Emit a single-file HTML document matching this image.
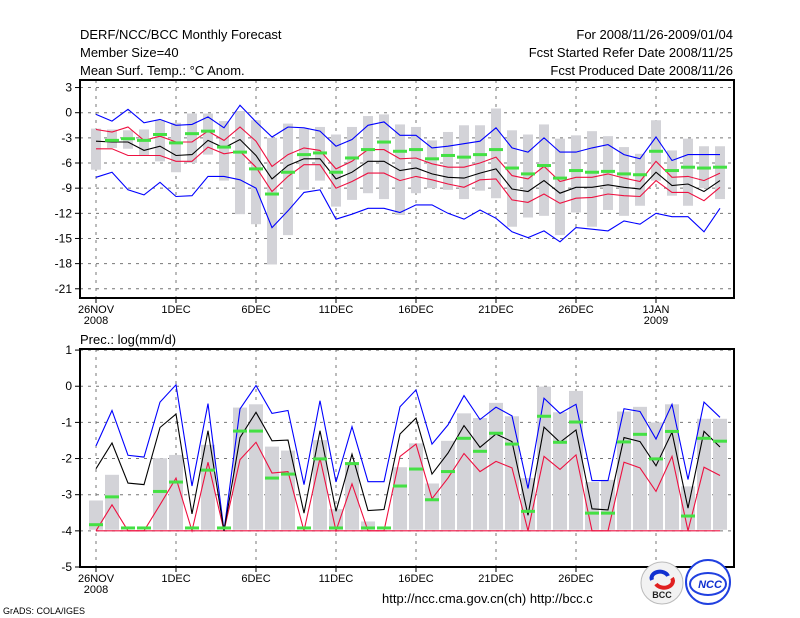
<!DOCTYPE html>
<html><head><meta charset="utf-8"><style>
body{margin:0;background:#fff;}
svg{display:block;font-family:"Liberation Sans",sans-serif;}
</style></head><body>
<svg id="chart" width="800" height="618" viewBox="0 0 800 618" xmlns="http://www.w3.org/2000/svg">
<rect width="800" height="618" fill="#fff"/>
<g font-size="13" fill="#000">
<text x="80" y="39">DERF/NCC/BCC Monthly Forecast</text>
<text x="80" y="57">Member Size=40</text>
<text x="80" y="75">Mean Surf. Temp.: °C Anom.</text>
<text x="733" y="39" text-anchor="end">For 2008/11/26-2009/01/04</text>
<text x="733" y="57" text-anchor="end">Fcst Started Refer Date 2008/11/25</text>
<text x="733" y="75" text-anchor="end">Fcst Produced Date 2008/11/26</text>
<text x="80" y="344">Prec.: log(mm/d)</text>
<text x="382" y="603">http://ncc.cma.gov.cn(ch)   http://bcc.c</text>
<text x="3" y="614" font-size="9">GrADS: COLA/IGES</text>
</g>
<g id="top"></g>
<g id="bot"></g>
<g>
<circle cx="662" cy="583" r="21" fill="#f2f2f2" stroke="#bbb"/>
<path d="M652 580 a8 6 0 0 1 16 -4" stroke="#1030d0" stroke-width="4" fill="none"/>
<path d="M672 578 a8 6 0 0 1 -16 6" stroke="#e02020" stroke-width="4" fill="none"/>
<text x="662" y="598" font-size="9" font-weight="bold" text-anchor="middle" fill="#222">BCC</text>
</g>
<g>
<circle cx="708" cy="582" r="22" fill="#fff" stroke="#2040e0" stroke-width="2"/>
<ellipse cx="708" cy="584" rx="18" ry="11" fill="none" stroke="#2040e0" stroke-width="2"/>
<text x="710" y="588" font-size="11" font-weight="bold" font-style="italic" text-anchor="middle" fill="#1030d0">NCC</text>
</g>
</svg>
<script>
// ---- temperature panel data ----
const days = ["26NOV","1DEC","6DEC","11DEC","16DEC","21DEC","26DEC","1JAN"];
const tempTicks = [3,0,-3,-6,-9,-12,-15,-18,-21];
const tBlueHi = [-0.2,-1.0,0.4,-1.2,-0.8,-1.5,-1.4,-0.5,-1.8,0.9,-1.1,-2.9,-1.7,-1.8,-2.2,-4.0,-3.2,-1.5,-1.1,-2.7,-2.7,-4.2,-4.0,-3.7,-3.4,-1.8,-4.2,-4.7,-3.0,-4.7,-4.7,-4.2,-3.8,-5.0,-5.5,-2.9,-5.7,-5.0,-5.0,-5.0];
const tBlueLo = [-7.7,-7.1,-9.2,-9.8,-8.3,-10.0,-9.9,-7.6,-7.6,-8.0,-9.0,-13.7,-11.7,-9.5,-9.2,-12.7,-12.1,-11.4,-11.4,-11.9,-11.0,-11.0,-12.0,-12.7,-11.6,-12.6,-14.2,-14.9,-14.1,-15.4,-13.7,-13.9,-14.1,-12.9,-13.3,-12.0,-12.4,-12.4,-14.2,-11.4];
const tRedHi = [-2.0,-2.3,-1.7,-3.3,-2.8,-3.5,-3.5,-2.2,-3.3,-1.7,-3.4,-6.4,-5.0,-4.2,-4.5,-6.7,-5.8,-4.4,-4.4,-5.5,-5.4,-6.1,-6.5,-6.5,-6.0,-5.3,-7.5,-7.9,-6.4,-8.2,-7.7,-7.7,-7.3,-7.8,-8.2,-5.8,-7.7,-7.6,-8.1,-7.2];
const tRedLo = [-4.3,-4.3,-5.1,-5.1,-5.1,-5.8,-5.8,-4.1,-4.9,-4.6,-6.5,-9.4,-7.6,-6.2,-6.2,-9.0,-8.2,-7.2,-7.2,-8.1,-7.6,-8.0,-8.5,-8.9,-8.0,-7.9,-10.4,-10.7,-9.7,-10.8,-10.2,-10.1,-9.7,-9.9,-10.0,-8.1,-9.5,-9.5,-10.5,-8.9];
const tMean = [-3.4,-3.5,-3.5,-4.5,-4.0,-5.1,-5.0,-3.3,-4.2,-3.2,-5.1,-7.9,-6.3,-5.5,-5.5,-7.9,-7.1,-5.8,-5.8,-6.9,-6.6,-7.3,-7.7,-7.8,-7.2,-6.7,-9.1,-9.4,-8.1,-9.6,-8.9,-8.9,-8.6,-8.9,-9.1,-7.1,-8.7,-8.5,-9.4,-8.1];
const tGreen = [null,-3.3,-3.1,-3.3,-2.6,-3.6,-2.5,-2.2,-4.1,-4.7,-6.7,-9.7,-7.1,-5.0,-4.8,-7.1,-5.4,-4.4,-3.5,-4.6,-4.4,-5.5,-5.1,-5.3,-5.0,-4.4,-6.6,-7.3,-6.3,-7.8,-6.9,-7.1,-7.0,-7.3,-7.4,-4.6,-6.9,-6.5,-6.6,-6.5];
const tBarTop = [-1.9,-2.0,-2.1,-2.0,-0.9,-1.2,-0.1,-0.1,-1.0,0.2,-0.9,-3.0,-1.3,-1.9,-1.7,-2.6,-1.7,-0.4,-0.2,-1.4,-1.7,-3.3,-2.3,-1.5,-1.5,0.5,-2.1,-2.6,-1.4,-3.1,-2.7,-2.2,-2.8,-4.1,-4.9,-0.9,-4.5,-3.1,-4.0,-4.0];
const tBarBot = [-6.8,-4.2,-4.3,-5.1,-5.8,-7.1,-6.0,-5.0,-8.1,-12.1,-13.3,-18.1,-14.6,-9.2,-8.1,-11.2,-10.4,-9.6,-10.3,-12.2,-9.6,-9.0,-9.2,-10.3,-9.3,-10.2,-13.6,-12.5,-12.3,-14.6,-11.9,-13.6,-11.6,-12.3,-11.1,-8.1,-9.9,-11.1,-9.0,-10.3];
// ---- precipitation panel data ----
const precTicks = [1,0,-1,-2,-3,-4,-5];
const pBlue = [-1.65,-0.67,-1.91,-1.96,-0.44,0.04,-2.76,-0.48,-4.0,-0.63,0.02,-0.75,-0.67,-2.72,-0.40,-2.65,-1.12,-2.64,-2.64,-0.57,-0.10,-1.60,-1.07,-0.26,-0.92,-0.58,-0.82,-2.83,-0.33,-0.75,-0.50,-2.61,-2.61,-0.62,-0.70,-1.46,-0.50,-2.58,-0.44,-0.86];
const pMean = [-2.28,-1.57,-2.68,-2.72,-1.14,-0.77,-3.53,-1.23,-4.0,-1.42,-0.72,-1.51,-1.49,-3.51,-1.23,-3.46,-1.88,-3.44,-3.41,-1.32,-0.88,-2.43,-1.85,-1.09,-1.69,-1.32,-1.53,-3.57,-1.13,-1.55,-1.21,-3.39,-3.42,-1.42,-1.53,-2.20,-1.27,-3.37,-1.25,-1.68];
const pRed = [-4,-3.28,-4,-4,-3.28,-2.54,-4,-2.10,-4,-2.03,-1.55,-2.40,-2.36,-4,-1.99,-4,-2.70,-4,-4,-1.94,-1.60,-3.11,-2.54,-1.86,-2.36,-2.08,-2.26,-4,-1.94,-2.30,-1.90,-4,-4,-2.10,-2.26,-2.91,-1.94,-4,-2.24,-2.47];
const pGreen = [-3.83,-3.06,-3.92,-3.92,-2.91,-2.65,-3.92,-2.32,-3.92,-1.24,-1.24,-2.54,-2.43,-3.92,-2.01,-3.92,-2.14,-3.92,-3.92,-2.76,-2.29,-3.14,-2.36,-1.44,-1.80,-1.30,-1.60,-3.46,-0.83,-1.55,-0.99,-3.51,-3.51,-1.54,-1.33,-2.01,-1.25,-3.59,-1.44,-1.52];
const pBarTop = [-3.16,-2.45,-4,-4,-1.99,-1.90,-4,-1.62,-4,-0.59,-0.50,-1.67,-1.78,-4,-1.49,-3.40,-2.10,-3.74,-4,-2.24,-1.58,-2.69,-1.51,-0.75,-0.88,-0.46,-0.83,-2.54,-0.01,-0.72,-0.13,-2.65,-2.59,-0.70,-0.57,-1.00,-0.50,-2.77,-0.90,-0.90];

const NS="http://www.w3.org/2000/svg";
function mk(parent,tag,attrs){const e=document.createElementNS(NS,tag);for(const k in attrs)e.setAttribute(k,attrs[k]);parent.appendChild(e);return e;}
const X0=80,X1=734;
function xs(i){return 96+16*i;}

function panel(g,top,bot,vmax,vmin,ticks,prefix){
  const ys=v=>top+(vmax-v)/(vmax-vmin)*(bot-top);
  // grid
  ticks.forEach(t=>{
    const y=ys(t);
    const l=mk(g,'line',{x1:X0,x2:X1,y1:y,y2:y,stroke:'#777','stroke-dasharray':'3,5'});
    
    
    mk(g,'line',{x1:X0-5,x2:X0,y1:y,y2:y,stroke:'#000'});
    const tx=mk(g,'text',{x:X0-8,y:y+4,'font-size':12,'text-anchor':'end'});
    tx.textContent=t;
    
    
  });
  days.forEach((d,k)=>{
    const x=xs(k*5);
    const l=mk(g,'line',{x1:x,x2:x,y1:top,y2:bot,stroke:'#777','stroke-dasharray':'3,5'});
    
    
    mk(g,'line',{x1:x,x2:x,y1:bot,y2:bot+5,stroke:'#000'});
    const tx=mk(g,'text',{x:x,y:bot+15,'font-size':11,'text-anchor':'middle'});
    tx.textContent=d;
    
    
    if(k===0||k===7){const t2=mk(g,'text',{x:x,y:bot+26,'font-size':11,'text-anchor':'middle'});t2.textContent=k===0?'2008':'2009';
      
      }
  });
  return ys;
}
function line(g,arr,ys,color,name){
  const pts=arr.map((v,i)=>xs(i)+','+ys(v).toFixed(1)).join(' ');
  const p=mk(g,'polyline',{points:pts,fill:'none',stroke:color,'stroke-width':1.1});
  
  
}
function greens(g,arr,ys,name){
  arr.forEach((v,i)=>{if(v===null)return;
    const r=mk(g,'rect',{x:xs(i)-7,y:ys(v)-1.5,width:14,height:3,fill:'#44e044'});
    
    });
}
function frame(g,top,bot,name){
  const f=mk(g,'rect',{x:X0,y:top,width:X1-X0,height:bot-top,fill:'none',stroke:'#000','stroke-width':2});
  
  
}

// top panel
const gt=document.getElementById('top');
const yt=v=>80+(3.9-v)/(3.9+22.1)*218;
const T=panel(gt,80,298,3.9,-22.1,tempTicks,'temp');
tBarTop.forEach((v,i)=>{
  const r=mk(gt,'rect',{x:xs(i)-5,y:T(v),width:10,height:T(tBarBot[i])-T(v),fill:'#d3d3d8'});
  
  
});
line(gt,tBlueHi,T,'#0000ff','temp-max-line');
line(gt,tBlueLo,T,'#0000ff','temp-min-line');
line(gt,tRedHi,T,'#ee1040','temp-upper-line');
line(gt,tRedLo,T,'#ee1040','temp-lower-line');
line(gt,tMean,T,'#000','temp-mean-line');
greens(gt,tGreen,T,'temp-observed-mark');
frame(gt,80,298,'temp-frame');

// bottom panel
const gb=document.getElementById('bot');
const P=panel(gb,349,567,1.03,-5.0,precTicks,'prec');
pBarTop.forEach((v,i)=>{
  const h=P(-3.97)-P(v); if(h<=0)return;
  const r=mk(gb,'rect',{x:xs(i)-7,y:P(v),width:14,height:h,fill:'#d3d3d8'});
  
  
});
const floorLine=mk(gb,'line',{x1:xs(0),x2:xs(39),y1:P(-4),y2:P(-4),stroke:'#ee1040','stroke-width':1.1});


line(gb,pBlue,P,'#0000ff','prec-max-line');
line(gb,pRed,P,'#ee1040','prec-min-line');
line(gb,pMean,P,'#000','prec-mean-line');
greens(gb,pGreen,P,'prec-observed-mark');
frame(gb,349,567,'prec-frame');
</script>
</body></html>
